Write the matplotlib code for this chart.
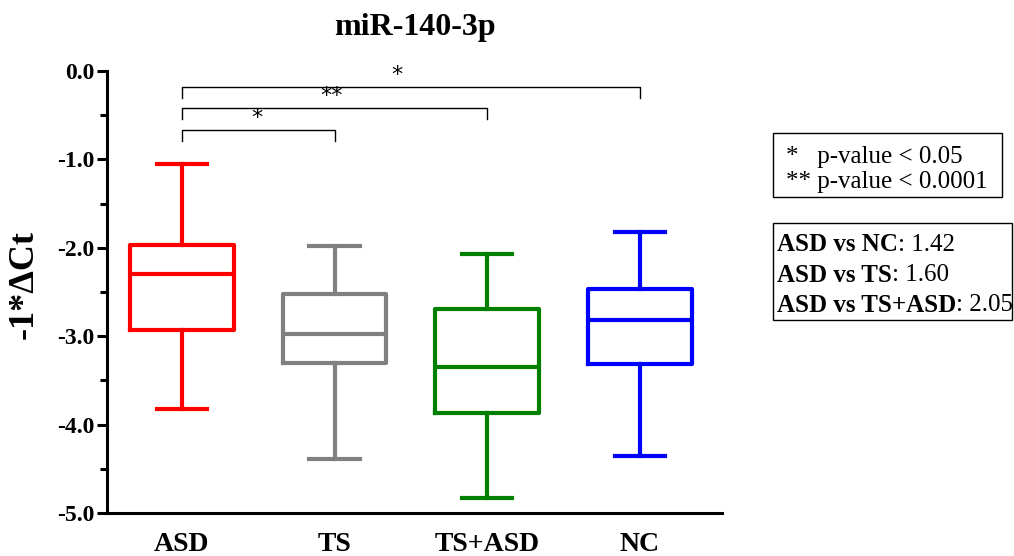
import matplotlib
matplotlib.use("Agg")
import matplotlib.pyplot as plt
from matplotlib.patches import Rectangle
from matplotlib.text import Annotation
from matplotlib.ticker import MultipleLocator, FormatStrFormatter

categories = ["ASD", "TS", "TS+ASD", "NC"]
whisker_high = [-1.05, -1.98, -2.07, -1.82]
q3 = [-1.97, -2.52, -2.69, -2.47]
median = [-2.30, -2.975, -3.35, -2.82]
q1 = [-2.93, -3.30, -3.87, -3.31]
whisker_low = [-3.82, -4.39, -4.83, -4.36]
colors = ["#ff0000", "#808080", "#008000", "#0000ff"]

# significance brackets: (group_a, group_b, level, label, label_x)
brackets = [(0, 1, -0.67, "*", 0.49), (0, 2, -0.42, "**", 0.98), (0, 3, -0.18, "*", 1.41)]
legend_sig = ["*   p-value < 0.05", "** p-value < 0.0001"]
legend_or = [("ASD vs NC", ": 1.42"), ("ASD vs TS", ": 1.60"), ("ASD vs TS+ASD", ": 2.05")]

serif = ["Liberation Serif", "DejaVu Serif"]
plt.rcParams["font.family"] = serif

fig = plt.figure(figsize=(10.14, 5.56), dpi=100)
ax = fig.add_axes([0.1055, 0.0773, 0.607, 0.795])

stats = []
for i, c in enumerate(categories):
    stats.append(dict(label=c, whislo=whisker_low[i], q1=q1[i], med=median[i],
                      q3=q3[i], whishi=whisker_high[i], fliers=[]))

bp = ax.bxp(stats, positions=range(len(categories)), widths=0.68,
            showfliers=False, patch_artist=False, capwidths=0.33)
for i, col in enumerate(colors):
    bp["boxes"][i].set(color=col, linewidth=3.0)
    bp["medians"][i].set(color=col, linewidth=3.0)
    for k in (2 * i, 2 * i + 1):
        bp["whiskers"][k].set(color=col, linewidth=3.0)
        bp["caps"][k].set(color=col, linewidth=3.0)

ax.set_xlim(-0.49, 3.54)
ax.set_ylim(-5.0, 0.0)
ax.yaxis.set_major_locator(MultipleLocator(1.0))
ax.yaxis.set_minor_locator(MultipleLocator(0.5))
ax.yaxis.set_major_formatter(FormatStrFormatter("%.1f"))
for s in ("top", "right"):
    ax.spines[s].set_visible(False)
for s in ("left", "bottom"):
    ax.spines[s].set_linewidth(2.2)
ax.tick_params(axis="y", which="major", length=7, width=2.2, labelsize=17, pad=2)
ax.tick_params(axis="y", which="minor", length=5, width=2.2)
ax.tick_params(axis="x", length=0, labelsize=20, pad=14)
ax.set_xticks(range(len(categories)))
ax.set_xticklabels(categories, fontweight="bold")
for lab in ax.get_yticklabels():
    lab.set_fontweight("bold")
ax.set_ylabel("-1*ΔCt", fontsize=26, fontweight="bold")
ax.yaxis.set_label_coords(-0.108, 0.518)

# brackets
for a, b, lvl, lab, lx in brackets:
    ax.plot([a, a, b, b], [lvl - 0.12, lvl, lvl, lvl - 0.12], color="black",
            linewidth=1.0, clip_on=False)
    ax.text(lx, lvl + 0.02, lab, ha="center", va="bottom",
            fontsize=16, family=["DejaVu Sans"])

fig.text(415 / 1014, 1 - 28 / 556, "miR-140-3p", ha="center", va="center",
         fontsize=23, fontweight="bold")

# legend boxes
fig.patches.append(Rectangle((773 / 1014, 1 - 197 / 556), 229 / 1014, 64 / 556,
                             transform=fig.transFigure, fill=False,
                             edgecolor="black", linewidth=1.0))
fig.patches.append(Rectangle((773 / 1014, 1 - 320 / 556), 239 / 1014, 97 / 556,
                             transform=fig.transFigure, fill=False,
                             edgecolor="black", linewidth=1.0))
for j, t in enumerate(legend_sig):
    fig.text(786 / 1014, 1 - (157 + 25 * j) / 556, t, fontsize=18,
             ha="left", va="center")
for j, (b, n) in enumerate(legend_or):
    tb = fig.text(777 / 1014, 1 - (245 + 30 * j) / 556, b, fontsize=18,
                  fontweight="bold", ha="left", va="center")
    fig.add_artist(Annotation(n, xy=(1, 0.5), xycoords=tb, va="center",
                              ha="left", fontsize=18, family=serif))

fig.savefig("out.png", dpi=100)
